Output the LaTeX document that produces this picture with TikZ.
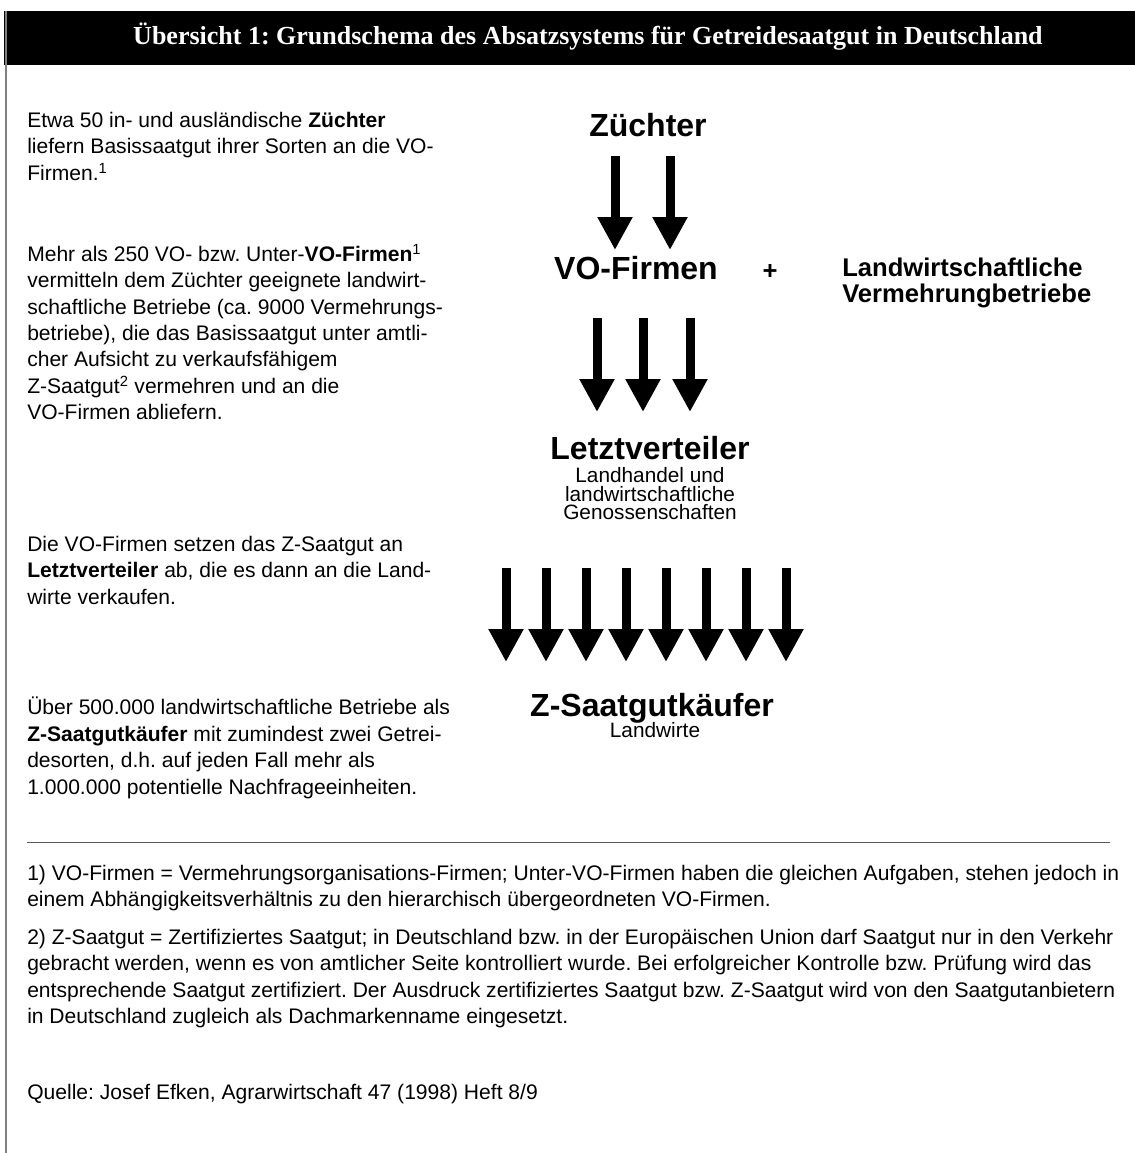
\documentclass[tikz,border=0pt]{standalone}
\usepackage{fontspec}
\setmainfont{Liberation Sans}
\newfontfamily\headfont{Liberation Serif}
\usetikzlibrary{arrows.meta}
\frenchspacing

\begin{document}
\begin{tikzpicture}[
  x=0.75pt, y=-0.75pt,
  body/.style={anchor=north west, inner sep=0pt, align=left,
               font=\fontsize{15.8}{19.8}\selectfont},
  stage/.style={anchor=base, inner sep=0pt, font=\fontsize{24}{28}\selectfont\bfseries},
  detail/.style={inner sep=0pt, align=center, font=\fontsize{15.6}{14}\selectfont},
  partner/.style={anchor=north west, inner sep=0pt, align=left,
                  font=\fontsize{19.2}{19.5}\selectfont\bfseries},
  fat/.style={line width=6.75pt, -{Triangle[width=24.75pt, length=24.75pt]}}
]
\useasboundingbox (0,0) rectangle (1135,1153);

% frame and title bar
\fill (4,11) rectangle (1135,65);
\draw[gray, line width=1.5pt] (6,11) -- (6,1153);
\node[text=white, font=\headfont\fontsize{19.5}{22}\selectfont\bfseries] (title) at (588,37)
  {Übersicht 1: Grundschema des Absatzsystems für Getreidesaatgut in Deutschland};

% left column
\node[body] (t1) at (27,112) {Etwa 50 in- und ausländische \textbf{Züchter}\\
  liefern Basissaatgut ihrer Sorten an die VO-\\Firmen.\textsuperscript{1}};
\node[body] (t2) at (27,244) {Mehr als 250 VO- bzw. Unter-\textbf{VO-Firmen}\textsuperscript{1}\\
  vermitteln dem Züchter geeignete landwirt-\\
  schaftliche Betriebe (ca. 9000 Vermehrungs-\\
  betriebe), die das Basissaatgut unter amtli-\\
  cher Aufsicht zu verkaufsfähigem\\
  Z-Saatgut\textsuperscript{2} vermehren und an die\\
  VO-Firmen abliefern.};
\node[body] (t3) at (27,536) {Die VO-Firmen setzen das Z-Saatgut an\\
  \textbf{Letztverteiler} ab, die es dann an die Land-\\
  wirte verkaufen.};
\node[body] (t4) at (27,697) {Über 500.000 landwirtschaftliche Betriebe als\\
  \textbf{Z-Saatgutkäufer} mit zumindest zwei Getrei-\\
  desorten, d.h. auf jeden Fall mehr als\\
  1.000.000 potentielle Nachfrageeinheiten.};

% right column
\node[stage] (zuechter) at (648,136) {Züchter};
\node[stage] (vofirmen) at (636,279) {VO-Firmen};
\node[stage, font=\fontsize{19.2}{20}\selectfont\bfseries] (plus) at (770,279) {+};
\node[partner] (vermehrung) at (842,258) {Landwirtschaftliche\\Vermehrungbetriebe};
\node[stage] (letzt) at (650,459) {Letztverteiler};
\node[detail, anchor=north] (handel) at (650,467) {Landhandel und\\landwirtschaftliche\\Genossenschaften};
\node[stage] (kaeufer) at (652,716) {Z-Saatgutkäufer};
\node[detail, anchor=base] (landwirte) at (655,737) {Landwirte};

\foreach \x [count=\i] in {615,670} {
  \coordinate (za\i) at (\x,156);
  \coordinate (zb\i) at (\x,250);
  \draw[fat] (za\i) -- (zb\i);
}
\foreach \x [count=\i] in {597,643,690} {
  \coordinate (va\i) at (\x,318);
  \coordinate (vb\i) at (\x,412);
  \draw[fat] (va\i) -- (vb\i);
}
\foreach \x [count=\i] in {506,546,586,626,666,706,746,786} {
  \coordinate (la\i) at (\x,568);
  \coordinate (lb\i) at (\x,662);
  \draw[fat] (la\i) -- (lb\i);
}

% notes
\draw[gray!70!black, line width=0.75pt] (27,842) -- (1110,842);
\node[body] (fn1) at (27,865) {1) VO-Firmen = Vermehrungsorganisations-Firmen; Unter-VO-Firmen haben die gleichen Aufgaben, stehen jedoch in\\
  einem Abhängigkeitsverhältnis zu den hierarchisch übergeordneten VO-Firmen.};
\node[body] (fn2) at (27,929) {2) Z-Saatgut = Zertifiziertes Saatgut; in Deutschland bzw. in der Europäischen Union darf Saatgut nur in den Verkehr\\
  gebracht werden, wenn es von amtlicher Seite kontrolliert wurde. Bei erfolgreicher Kontrolle bzw. Prüfung wird das\\
  entsprechende Saatgut zertifiziert. Der Ausdruck zertifiziertes Saatgut bzw. Z-Saatgut wird von den Saatgutanbietern\\
  in Deutschland zugleich als Dachmarkenname eingesetzt.};
\node[body] (quelle) at (27,1084) {Quelle: Josef Efken, Agrarwirtschaft 47 (1998) Heft 8/9};
\end{tikzpicture}
\end{document}
